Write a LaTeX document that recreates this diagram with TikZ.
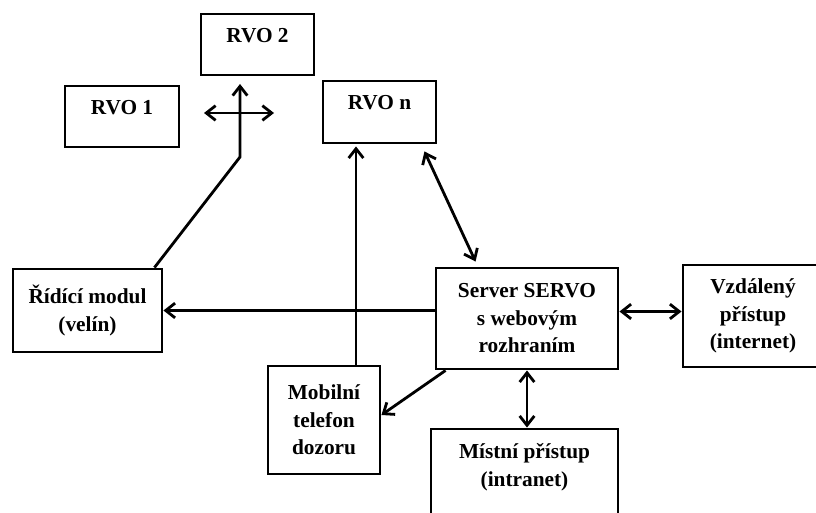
\documentclass[tikz,border=0pt]{standalone}
\usepackage{fontspec}
\setmainfont{Liberation Serif}
\usetikzlibrary{arrows.meta}
\newcommand{\pxl}{0.75pt}

\begin{document}
\begin{tikzpicture}[x=0.75pt,y=-0.75pt,
    every node/.style={font=\fontsize{16}{20.6}\selectfont\bfseries, align=center},
    box/.style={draw, line width=2.2pt, inner sep=0pt},
    spoj/.style={line width=2.1pt},
    >={Straight Barb[length=7pt,width=11pt]}]
    \useasboundingbox (0,0) rectangle (816,513);
    \clip (0,0) rectangle (816,513);
    %Bloky
        \node[box, minimum width=113*\pxl, minimum height=61*\pxl,
            label={[anchor=north,yshift=-11.5pt,inner sep=0pt]north:RVO 2}] (rvo2) at (257.5,44.5) {};
        \node[box, minimum width=114*\pxl, minimum height=61*\pxl,
            label={[anchor=north,yshift=-11.5pt,inner sep=0pt]north:RVO 1}] (rvo1) at (122,116.5) {};
        \node[box, minimum width=113*\pxl, minimum height=62*\pxl,
            label={[anchor=north,yshift=-11.5pt,inner sep=0pt]north:RVO n}] (rvon) at (379.5,112) {};
        \node[box, minimum width=149*\pxl, minimum height=83*\pxl] (ridici) at (87.5,310.5) {Řídící modul\\(velín)};
        \node[box, minimum width=182*\pxl, minimum height=101*\pxl] (server) at (527,318.5) {Server SERVO\\s webovým\\rozhraním};
        \node[box, minimum width=112*\pxl, minimum height=108*\pxl] (mobil) at (324,420) {Mobilní\\telefon\\dozoru};
        \node[box, minimum width=140*\pxl, minimum height=102*\pxl] (vzdal) at (753,316) {Vzdálený\\přístup\\(internet)};
        \node[box, minimum width=187*\pxl, minimum height=101*\pxl,
            label={[anchor=north,yshift=-12pt,inner sep=0pt]north:Místní přístup\\(intranet)}] (mistni) at (524.5,479.5) {};
    %Body
        \coordinate (hl) at (204,113);
        \coordinate (hr) at (274,113);
        \coordinate (koleno) at (240,157);
        \coordinate (vrch) at (240,84);
        \coordinate (mx) at (356,0);
    %Spoje
        \draw[spoj,<->] (hl)--(hr);
        \draw[spoj,->] ([xshift=-9*\pxl]ridici.north east)--(koleno)--(vrch);
        \draw[spoj,->] (server.west |- ridici.east)--(ridici.east);
        \draw[spoj,->] (mobil.north -| mx)--([yshift=-2*\pxl]rvon.south -| mx);
        \draw[spoj,->] ([xshift=11*\pxl]server.south west)--([yshift=5*\pxl]mobil.east);
        \draw[spoj,<->] ([xshift=-13*\pxl,yshift=-7*\pxl]rvon.south east)--([xshift=41*\pxl,yshift=5*\pxl]server.north west);
        \draw[spoj,<->] ([yshift=7*\pxl]server.east)--([yshift=7*\pxl]server.east -| vzdal.west);
        \draw[spoj,<->] (server.south)--(server.south |- mistni.north);
\end{tikzpicture}
\end{document}
